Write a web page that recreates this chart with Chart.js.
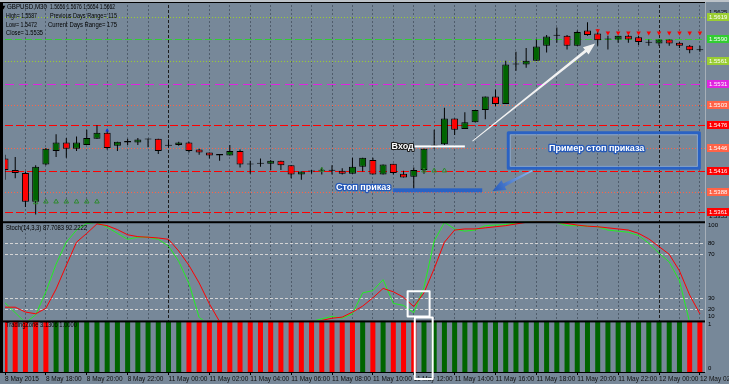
<!DOCTYPE html>
<html><head><meta charset="utf-8"><title>GBPUSD,M30</title>
<script src="https://cdn.jsdelivr.net/npm/chart.js"></script>
<style>html,body{margin:0;padding:0;background:#778899;overflow:hidden}canvas{display:block}</style>
</head><body>
<canvas id="chart" width="729" height="384"></canvas>
<script>
// ---------- DATA ----------
const timeLabels = ['8 May 2015','8 May 18:00','8 May 20:00','8 May 22:00','11 May 00:00','11 May 02:00','11 May 04:00','11 May 06:00','11 May 08:00','11 May 10:00','11 May 12:00','11 May 14:00','11 May 16:00','11 May 18:00','11 May 20:00','11 May 22:00','12 May 00:00','12 May 02:00'];
const daySeparators = [16, 64];

const opens = [1.5432,1.5417,1.5413,1.5375,1.5424,1.5442,1.5453,1.5445,1.5450,1.5458,
1.5466,1.5449,1.5455,1.5453,1.5457,1.5458,1.5449,1.5450,1.5453,1.5444,
1.5440,1.5436,1.5436,1.5442,1.5424,1.5425,1.5425,1.5429,1.5423,1.5411,
1.5415,1.5416,1.5416,1.5416,1.5412,1.5421,1.5430,1.5411,1.5425,1.5412,
1.5408,1.5417,1.5449,1.5451,1.5485,1.5471,1.5480,1.5496,1.5514,1.5504,
1.5556,1.5556,1.5561,1.5581,1.5594,1.5594,1.5581,1.5601,1.5597,1.5589,
1.5589,1.5594,1.5592,1.5585,1.5584,1.5589,1.5585,1.5581,1.5575];
const highs = [1.5437,1.5434,1.5415,1.5423,1.5446,1.5464,1.5459,1.5461,1.5470,1.5476,
1.5470,1.5454,1.5458,1.5459,1.5458,1.5458,1.5457,1.5454,1.5454,1.5445,
1.5440,1.5438,1.5450,1.5444,1.5429,1.5432,1.5430,1.5429,1.5423,1.5415,
1.5417,1.5420,1.5423,1.5419,1.5433,1.5433,1.5433,1.5424,1.5425,1.5416,
1.5420,1.5445,1.5470,1.5499,1.5485,1.5493,1.5496,1.5514,1.5523,1.5561,
1.5573,1.5578,1.5589,1.5595,1.5605,1.5595,1.5601,1.5612,1.5602,1.5594,
1.5594,1.5595,1.5594,1.5589,1.5589,1.5589,1.5586,1.5582,1.5581];
const lows = [1.5404,1.5406,1.5368,1.5358,1.5423,1.5434,1.5433,1.5442,1.5450,1.5458,
1.5444,1.5442,1.5450,1.5450,1.5447,1.5438,1.5447,1.5449,1.5440,1.5437,
1.5432,1.5429,1.5436,1.5420,1.5412,1.5421,1.5417,1.5417,1.5406,1.5404,
1.5412,1.5411,1.5411,1.5411,1.5412,1.5415,1.5411,1.5411,1.5411,1.5407,
1.5392,1.5412,1.5445,1.5450,1.5463,1.5471,1.5480,1.5484,1.5501,1.5504,
1.5548,1.5552,1.5561,1.5572,1.5585,1.5576,1.5581,1.5594,1.5581,1.5576,
1.5585,1.5585,1.5582,1.5581,1.5581,1.5581,1.5578,1.5571,1.5573];
const closes = [1.5417,1.5413,1.5375,1.5421,1.5445,1.5453,1.5445,1.5453,1.5459,1.5466,
1.5446,1.5454,1.5453,1.5457,1.5457,1.5442,1.5449,1.5453,1.5442,1.5440,
1.5436,1.5438,1.5442,1.5424,1.5424,1.5425,1.5429,1.5423,1.5411,1.5415,
1.5415,1.5416,1.5416,1.5412,1.5421,1.5433,1.5411,1.5424,1.5413,1.5407,
1.5417,1.5445,1.5449,1.5485,1.5470,1.5480,1.5496,1.5514,1.5504,1.5556,
1.5556,1.5561,1.5580,1.5593,1.5594,1.5581,1.5599,1.5595,1.5588,1.5589,
1.5594,1.5589,1.5586,1.5585,1.5589,1.5584,1.5581,1.5575,1.5575];

const buyIdx = [3,4,5,6,7,8,9,31,41,42,43];
const buyVal = [1.5374,1.5375,1.5375,1.5375,1.5375,1.5375,1.5375,1.5417,1.5416,1.5416,1.5416];
const sellIdx = [58,59,60,61,62,63,64,65,66,67,68];
const sellVal = [1.5601,1.5598,1.5598,1.5598,1.5598,1.5598,1.5598,1.5598,1.5598,1.5598,1.5598];
const blueIdx = [10];
const blueVal = [1.5469];

const stochMain = [26,17,8,15,36,61,81,92,98,99,
94.5,89,83.6,85.5,85.5,83.6,77.5,63.6,43.6,12.7,
6,4,3,2,3,4,4,3,2,5,
9,11.5,13.6,12,16,35,37,47,25.5,23.6,
17,40,82,99,93,91,92,96,96.5,97,
98.5,99.5,99.5,99.5,99,96,96,95.5,95,92,
91,90,87,80,71,63,46,8,3];
const stochSignal = [22,22,17.6,16,21,38.5,60,81,89,97.6,
96,92.4,87.7,86,85.5,84.8,83.6,73,60,44,
25,9,5,4,3,3,3,4,3,4,
6,10,12,13,17.5,23,30.5,39,36,31,
22.5,35,57,81,92,93,93,94,95,96,
97.5,99,99.5,99.5,99,98,96.5,95.5,95,94,
93,92,89,84,77,70,55,33,16];
const stochLevels = [80,70,30,20];
const stochTicks = [100,80,70,30,20,10];

const tzUp = [0,0,0,0,0,1,1,1,1,1,1,1,1,1,1,1,1,1,0,0,0,0,0,0,0,0,0,0,0,0,0,0,0,0,0,1,0,1,0,0,0,1,1,1,1,1,1,1,1,1,1,1,1,1,1,1,1,1,1,1,1,1,1,1,1,1,1,0,0];
const tzDown = [1,1,1,1,1,0,0,0,0,0,0,0,0,0,0,0,0,0,1,1,1,1,1,1,1,1,1,1,1,1,1,1,1,1,1,0,1,0,1,1,1,0,0,0,0,0,0,0,0,0,0,0,0,0,0,0,0,0,0,0,0,0,0,0,0,0,0,1,1];
const tzTicks = [1,0];

const priceLevels = [1.5619,1.5590,1.5561,1.5531,1.5503,1.5476,1.5446,1.5416,1.5388,1.5361];
const priceAxisLabels = [1.5625,1.5355];

const headerLines = [
  ['GBPUSD,M30', '1.5656 1.5676 1.5654 1.5662'],
  ['High= 1.5587', 'Previous Days Range= 115'],
  ['Low= 1.5472', 'Current Days Range= 175'],
  ['Close= 1.5535', '']
];
const stochTitle = 'Stoch(14,3,3) 87.7083 92.2222';
const tzTitle = 'TradingZone 3.1306 1.0000';

// ---------- STYLES / LAYOUT OF TEXTS & ANNOTATIONS ----------
const YG='#9acd32', GR='#32cd32', MG='#e024e0', SL='#ff6347', RD='#ff0000';
const levelStyles = [
  {c:YG,d:[1,2]},{c:GR,d:[7,3]},{c:YG,d:[1,2]},{c:MG,d:[9,5]},{c:SL,d:[1,2]},
  {c:RD,d:[8,3]},{c:SL,d:[1,2]},{c:RD,d:[8,3]},{c:SL,d:[1,2]},{c:RD,d:[8,3]}
];
// header text placement: [x, y, width] for left and right texts of each line
const headerPlace = [
  [[7,7,40],[50,7,65]],
  [[6,16,31],[50,16,67]],
  [[6,25,31],[48,25,69]],
  [[6,33,37],null]
];
const annot = {
  entryLine:{x0:40.1,x1:45.0,p:1.5448},
  entryText:{x:40.0,p:1.5448,text:'Вход'},
  stopLine:{x0:37.95,x1:46.7,p:1.5390},
  stopText:{x:37.75,p:1.5394,text:'Стоп приказ'},
  rect:{x0:49.25,x1:67.95,p0:1.5466,p1:1.5419},
  rectText:{x:57.9,p:1.5445,text:'Пример стоп приказа'},
  blueArrow:{x0:51.6,p0:1.5416,x1:47.7,p1:1.5389},
  whiteArrow:{x0:45.75,p0:1.5455,x1:57.75,p1:1.5584},
  stochBox:{x0:39.4,x1:41.55,v0:36.4,v1:13.6},
  tzBox:{x0:40.1,x1:41.85}
};

const FONT = '"Liberation Sans", Arial, sans-serif';
Chart.defaults.font.family = FONT;

const idx = opens.map((_, i) => i);
const gridTicks = []; for (let v = 0; v <= 68; v += 2) gridTicks.push(v);
const bodyColors = idx.map(i => closes[i] > opens[i] ? '#006400' : (closes[i] < opens[i] ? '#ff0000' : '#000000'));

const datasets = [
  {type:'bar', label:'body', data: idx.map(i => ({x:i, y:[opens[i], closes[i]]})), backgroundColor: bodyColors,
   borderColor:'#000', borderWidth:1, borderSkipped:false, barThickness:7, minBarLength:1, grouped:false, inflateAmount:0, yAxisID:'y', order:4},
  {type:'bar', label:'wick', data: idx.map(i => ({x:i, y:[lows[i], highs[i]]})), backgroundColor:'#000',
   barThickness:1, grouped:false, inflateAmount:0, yAxisID:'y', order:5},
  {type:'line', label:'buy', data: buyIdx.map((x,k) => ({x, y:buyVal[k]})), showLine:false, pointStyle:'triangle',
   pointRadius:2.6, pointBackgroundColor:'rgba(0,0,0,0)', pointBorderColor:'#2e8b2e', pointBorderWidth:1, yAxisID:'y', order:3},
  {type:'line', label:'sell', data: sellIdx.map((x,k) => ({x, y:sellVal[k]})), showLine:false, pointStyle:'triangle', pointRotation:180,
   pointRadius:2.6, pointBackgroundColor:'#ff0000', pointBorderWidth:0, yAxisID:'y', order:3},
  {type:'line', label:'blue', data: blueIdx.map((x,k) => ({x, y:blueVal[k]})), showLine:false, pointStyle:'triangle',
   pointRadius:2.2, pointBackgroundColor:'#1030e0', pointBorderWidth:0, yAxisID:'y', order:3},
  {type:'line', label:'%K', data: idx.map(i => ({x:i, y:stochMain[i]})), borderColor:'#22ee22', borderWidth:1, pointRadius:0, tension:0, yAxisID:'ys', order:2},
  {type:'line', label:'%D', data: idx.map(i => ({x:i, y:stochSignal[i]})), borderColor:'#ff0000', borderWidth:1, pointRadius:0, tension:0, yAxisID:'ys', order:1},
  {type:'bar', label:'tzUp', data: idx.map(i => ({x:i, y: tzUp[i] ? tzUp[i] : null})), backgroundColor:'#006400', barThickness:5, grouped:false, inflateAmount:0, yAxisID:'yt', order:6},
  {type:'bar', label:'tzDown', data: idx.map(i => ({x:i, y: tzDown[i] ? tzDown[i] : null})), backgroundColor:'#ff0000', barThickness:5, grouped:false, inflateAmount:0, yAxisID:'yt', order:6}
];

function yAxis(min, max, weight) {
  return {type:'linear', position:'right', stack:'panes', stackWeight:weight, min, max,
    grid:{display:false}, border:{display:false}, ticks:{display:false},
    afterFit(s){ s.width = 24; s.paddingTop = 0; s.paddingBottom = 0; }};
}

function arrow(c, x0, y0, x1, y1, w0, w1, hl, hw) {
  const dx = x1-x0, dy = y1-y0, L = Math.hypot(dx, dy), ux = dx/L, uy = dy/L, nx = -uy, ny = ux;
  const bx = x1-ux*hl, by = y1-uy*hl;
  c.beginPath();
  c.moveTo(x0+nx*w0, y0+ny*w0); c.lineTo(bx+nx*w1, by+ny*w1); c.lineTo(bx+nx*hw, by+ny*hw);
  c.lineTo(x1, y1);
  c.lineTo(bx-nx*hw, by-ny*hw); c.lineTo(bx-nx*w1, by-ny*w1); c.lineTo(x0-nx*w0, y0-ny*w0);
  c.closePath(); c.fill();
}
function outlined(c, text, x, y, align, stroke, lw) {
  c.font = 'bold 9px ' + FONT; c.textAlign = align; c.textBaseline = 'middle'; c.lineJoin = 'round';
  c.strokeStyle = stroke; c.lineWidth = lw; c.strokeText(text, x, y);
  c.fillStyle = '#ffffff'; c.fillText(text, x, y);
}
// small text fitted to a given width (horizontal squeeze only)
function fitText(c, text, x, y, width) {
  const m = c.measureText(text).width;
  const k = Math.min(1, width / m);
  c.save(); c.translate(x, y); c.scale(k, 1); c.fillText(text, 0, 0); c.restore();
}

const mt4 = {
  id:'mt4',
  beforeDraw(chart){ const c = chart.ctx; c.save(); c.fillStyle = '#778899'; c.fillRect(0,0,chart.width,chart.height);
    c.fillStyle = '#bcc2c8'; c.fillRect(0,0,chart.width,2); c.restore(); },
  beforeDatasetsDraw(chart){
    const c = chart.ctx, a = chart.chartArea, y = chart.scales.y, ys = chart.scales.ys;
    c.save(); c.lineWidth = 1;
    priceLevels.forEach((p,k) => { const py = Math.round(y.getPixelForValue(p)) + 0.5;
      c.strokeStyle = levelStyles[k].c; c.setLineDash(levelStyles[k].d);
      c.beginPath(); c.moveTo(a.left, py); c.lineTo(a.right, py); c.stroke(); });
    c.strokeStyle = '#d4d4d4'; c.setLineDash([3,2]);
    stochLevels.forEach(v => { const py = Math.round(ys.getPixelForValue(v)) + 0.5;
      c.beginPath(); c.moveTo(a.left, py); c.lineTo(a.right, py); c.stroke(); });
    c.restore();
  },
  beforeDatasetDraw(chart, args){
    const c = chart.ctx, a = chart.chartArea, sc = chart.scales[args.meta.yAxisID];
    c.save(); c.beginPath(); c.rect(a.left, sc.top, a.right - a.left, sc.bottom - sc.top); c.clip();
  },
  afterDatasetDraw(chart){ chart.ctx.restore(); },
  afterDatasetsDraw(chart){
    const c = chart.ctx, a = chart.chartArea, xs = chart.scales.x, y = chart.scales.y, ys = chart.scales.ys, yt = chart.scales.yt;
    const X = v => xs.getPixelForValue(v), P = v => y.getPixelForValue(v), S = v => ys.getPixelForValue(v);
    c.save();
    // frame and panel separators
    c.fillStyle = '#000';
    c.fillRect(0, 2, 3, a.bottom - 2);
    c.fillRect(0, 2, a.right, 1);
    c.fillRect(0, y.bottom, a.right, 2);
    c.fillRect(0, ys.bottom, a.right, 2);
    c.fillRect(0, a.bottom, a.right, 1);
    c.fillStyle = '#a7afb8'; c.fillRect(a.right, 2, 1, a.bottom - 2);
    // entry
    const e = annot.entryLine;
    c.fillStyle = '#ffffff'; c.fillRect(X(e.x0), P(e.p) - 1, X(e.x1) - X(e.x0), 2);
    outlined(c, annot.entryText.text, X(annot.entryText.x), P(annot.entryText.p), 'right', '#1a1a1a', 2.2);
    // stop line + text
    const s = annot.stopLine;
    c.fillStyle = '#2a62c4'; c.fillRect(X(s.x0), P(s.p) - 2, X(s.x1) - X(s.x0), 4);
    outlined(c, annot.stopText.text, X(annot.stopText.x), P(annot.stopText.p), 'right', '#2458b8', 2.6);
    // rectangle
    const r = annot.rect;
    c.strokeStyle = '#2a62c4'; c.lineWidth = 3;
    c.strokeRect(X(r.x0), P(r.p0), X(r.x1) - X(r.x0), P(r.p1) - P(r.p0));
    c.strokeStyle = 'rgba(150,185,235,0.6)'; c.lineWidth = 1;
    c.strokeRect(X(r.x0) + 2, P(r.p0) + 2, X(r.x1) - X(r.x0) - 4, P(r.p1) - P(r.p0) - 4);
    outlined(c, annot.rectText.text, X(annot.rectText.x), P(annot.rectText.p), 'center', '#2458b8', 2.6);
    // blue arrow
    const b = annot.blueArrow;
    const g = c.createLinearGradient(X(b.x0), P(b.p0), X(b.x1), P(b.p1));
    g.addColorStop(0, '#8fb6ee'); g.addColorStop(1, '#2458b8');
    c.fillStyle = g; arrow(c, X(b.x0), P(b.p0), X(b.x1), P(b.p1), 0.6, 1.8, 13, 5.5);
    // white arrow
    const w = annot.whiteArrow;
    c.fillStyle = '#f2f2f2'; arrow(c, X(w.x0), P(w.p0), X(w.x1), P(w.p1), 0.45, 1.4, 12, 4.5);
    // white boxes
    c.strokeStyle = '#ffffff'; c.lineWidth = 2;
    const sb = annot.stochBox;
    c.strokeRect(X(sb.x0), S(sb.v0), X(sb.x1) - X(sb.x0), S(sb.v1) - S(sb.v0));
    const tb = annot.tzBox;
    c.strokeRect(X(tb.x0), yt.top - 3, X(tb.x1) - X(tb.x0), yt.bottom - yt.top + 10);
    c.restore();
  },
  afterDraw(chart){
    const c = chart.ctx, y = chart.scales.y, ys = chart.scales.ys, yt = chart.scales.yt, ax = chart.chartArea.right + 2;
    c.save();
    c.textAlign = 'left'; c.textBaseline = 'middle';
    c.font = '6px ' + FONT;
    // plain price labels
    c.fillStyle = '#000';
    priceAxisLabels.forEach(p => { const py = Math.min(Math.max(y.getPixelForValue(p), y.top + 5), y.bottom - 4); c.fillText(p.toFixed(4), ax + 2, py); });
    // level boxes
    priceLevels.forEach((p,k) => { const py = Math.round(y.getPixelForValue(p));
      c.fillStyle = levelStyles[k].c; c.fillRect(ax, py - 4, 22, 8);
      c.fillStyle = '#ffffff'; c.fillText(p.toFixed(4), ax + 2, py + 0.5); });
    // stoch / tz labels
    c.fillStyle = '#000';
    stochTicks.forEach(v => { const py = Math.min(Math.max(ys.getPixelForValue(v), ys.top + 4), ys.bottom - 4); c.fillText(String(v), ax + 1, py); });
    tzTicks.forEach(v => { const py = Math.min(Math.max(yt.getPixelForValue(v), yt.top + 4), yt.bottom - 4); c.fillText(String(v), ax + 1, py); });
    // header texts
    c.fillStyle = '#000';
    c.font = '5px "DejaVu Sans"'; c.fillText('▼', 1.5, 7.5);
    c.font = '6.5px ' + FONT;
    headerLines.forEach((ln, k) => {
      const pl = headerPlace[k];
      fitText(c, ln[0], pl[0][0], pl[0][1], pl[0][2]);
      if (ln[1] && pl[1]) fitText(c, ln[1], pl[1][0], pl[1][1], pl[1][2]);
    });
    fitText(c, stochTitle, 6, ys.top + 7, 81);
    fitText(c, tzTitle, 6, yt.top + 5, 71);
    c.restore();
  }
};

new Chart(document.getElementById('chart'), {
  type:'bar',
  data:{datasets},
  options:{
    responsive:false, animation:false, devicePixelRatio:1, events:[],
    layout:{padding:{left:3, top:2, right:0, bottom:0}},
    plugins:{legend:{display:false}, tooltip:{enabled:false}},
    scales:{
      x:{type:'linear', position:'bottom', min:0, max:68.5, offset:false,
        afterBuildTicks(s){ s.ticks = gridTicks.map(v => ({value:v})); },
        afterFit(s){ s.height = 12; s.paddingLeft = 0; s.paddingRight = 0; },
        ticks:{autoSkip:false, maxRotation:0, minRotation:0, align:'start', padding:0, color:'#111', font:{size:6.5},
          callback:(v) => (v % 4 === 0 ? timeLabels[v/4] : '')},
        grid:{offset:false, lineWidth:1, drawTicks:true, tickLength:3,
          color:(ctx) => { const v = ctx.tick ? ctx.tick.value : -1; if (daySeparators.includes(v)) return '#1c1c1c'; if (v > 0) return 'rgba(66,78,92,0.75)'; return 'rgba(0,0,0,0)'; },
          tickColor:(ctx) => { const v = ctx.tick ? ctx.tick.value : -1; return v % 4 === 0 ? '#000' : 'rgba(0,0,0,0)'; }},
        border:{display:false, dash:(ctx) => { const v = ctx.tick ? ctx.tick.value : -1; return daySeparators.includes(v) ? [3,2] : [2,2]; }}
      },
      y: yAxis(1.53492, 1.56347, 218),
      ys: yAxis(10, 100, 100),
      yt: yAxis(0, 1, 52)
    }
  },
  plugins:[mt4]
});
</script></body></html>
